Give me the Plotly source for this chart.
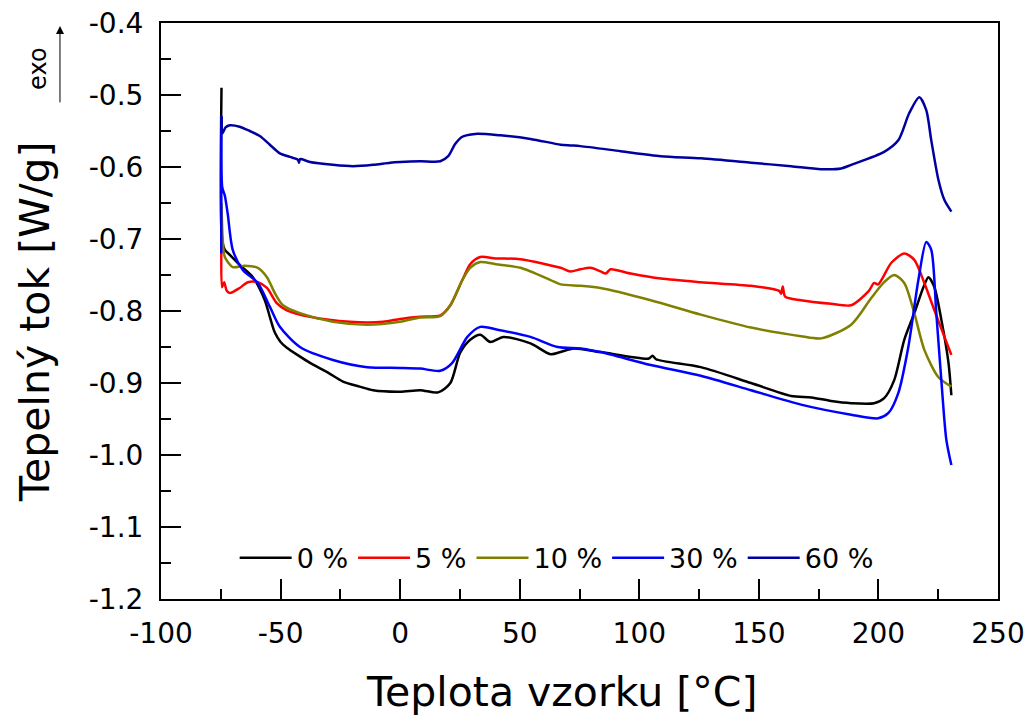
import plotly.graph_objects as go

# DSC heating curves: heat flow vs. sample temperature for five compositions
labels = ["0 %", "5 %", "10 %", "30 %", "60 %"]
colors = ["#000000", "#ff0000", "#808000", "#0000ff", "#0000a0"]

t_0 = [-74.7, -74.5, -73.3, -71.2, -67.1, -61.6, -56.6, -54.5, -52.4, -50.0, -47.4, -42.0, -37.7, -30.0, -23.9,
       -17.0, -11.3, 0, 8.4, 15.9, 21.0, 25.1, 29.3, 33.5, 37.7, 43.2, 54.5, 62.9, 67.1, 72.5, 83.8,
       104.0, 105.5, 107.0, 125.7, 146.7, 163.5, 172.0, 180.2, 188.6, 198.2, 202.4,
       206.6, 210.8, 215.0, 218.8, 220.9, 223.4, 226.3, 229.3, 230.5]
q_0 = [-0.49, -0.70, -0.715, -0.722, -0.736, -0.753, -0.785, -0.808, -0.830, -0.843, -0.851, -0.863, -0.872, -0.886, -0.898,
       -0.905, -0.910, -0.912, -0.910, -0.913, -0.900, -0.858, -0.840, -0.833, -0.843, -0.836, -0.845, -0.860, -0.857, -0.852, -0.857,
       -0.866, -0.862, -0.867, -0.878, -0.900, -0.918, -0.920, -0.925, -0.928, -0.928, -0.921,
       -0.896, -0.840, -0.803, -0.767, -0.753, -0.767, -0.812, -0.872, -0.917]

t_5 = [-74.7, -74.5, -73.6, -72.5, -71.2, -67.1, -63.7, -59.5, -55.7, -51.6, -47.4, -37.7, -21.0,
       -7.1, 0, 8.4, 16.8, 21.0, 26.0, 29.3, 33.5, 40.0, 50.3, 67.1, 71.2, 75.4, 79.6, 83.8,
       86.0, 88.0, 96.4, 109.0, 125.7, 146.7, 158.5, 159.3, 160.0, 161.0, 167.6, 180.2, 188.6,
       196.0, 198.2, 199.9, 205.4, 210.8, 215.0, 219.2, 223.4, 227.6, 230.5]
q_5 = [-0.70, -0.767, -0.760, -0.772, -0.775, -0.768, -0.760, -0.760, -0.768, -0.789, -0.799, -0.808, -0.815,
       -0.815, -0.811, -0.808, -0.806, -0.792, -0.757, -0.735, -0.725, -0.727, -0.728, -0.740, -0.745, -0.742, -0.740, -0.745,
       -0.748, -0.742, -0.748, -0.755, -0.760, -0.765, -0.772, -0.776, -0.766, -0.780, -0.785, -0.790, -0.792,
       -0.772, -0.761, -0.763, -0.733, -0.720, -0.729, -0.761, -0.799, -0.836, -0.861]

t_10 = [-74.7, -74.2, -73.3, -70.0, -65.0, -59.5, -55.7, -52.4, -49.0, -41.9, -28.1, -13.8,
        0, 8.4, 16.8, 21.0, 26.0, 29.3, 33.5, 40.0, 50.3, 62.9, 67.1, 75.4, 83.8, 104.8,
        125.7, 146.7, 167.6, 176.0, 188.6, 197.0, 202.4, 206.6, 210.8, 215.0, 219.2, 225.1, 230.5]
q_10 = [-0.65, -0.70, -0.725, -0.739, -0.737, -0.740, -0.753, -0.775, -0.792, -0.803, -0.815, -0.819,
        -0.815, -0.809, -0.807, -0.792, -0.757, -0.740, -0.732, -0.735, -0.740, -0.757, -0.763, -0.765, -0.768, -0.785,
        -0.805, -0.823, -0.835, -0.838, -0.819, -0.782, -0.760, -0.750, -0.761, -0.803, -0.854, -0.892, -0.905]

t_30 = [-74.8, -74.7, -74.4, -73.3, -72.1, -70.0, -65.8, -59.5, -54.5, -50.3, -41.9, -28.1, -13.8,
        0, 8.4, 16.8, 21.8, 28.1, 33.5, 40.7, 54.5, 65.8, 75.4, 83.8, 104.8, 125.7, 146.7,
        167.6, 188.6, 199.9, 204.1, 208.3, 212.5, 216.7, 220.0, 222.1, 224.2, 226.3, 228.4, 230.5]
q_30 = [-0.72, -0.53, -0.628, -0.640, -0.665, -0.715, -0.743, -0.761, -0.794, -0.822, -0.850, -0.868, -0.878,
        -0.879, -0.880, -0.883, -0.872, -0.836, -0.822, -0.826, -0.836, -0.850, -0.852, -0.857, -0.875, -0.890, -0.910,
        -0.930, -0.944, -0.949, -0.942, -0.914, -0.850, -0.757, -0.704, -0.715, -0.803, -0.896, -0.979, -1.014]

t_60 = [-74.7, -74.3, -73.0, -71.2, -67.1, -62.9, -58.7, -54.5, -50.3, -46.1, -42.7, -42.3, -41.9,
        -37.7, -28.1, -19.7, -11.3, -4.2, 0, 8.4, 16.8, 20.1, 23.0, 26.0, 31.4, 41.9, 54.5,
        67.1, 71.2, 75.4, 92.2, 109.0, 125.7, 146.7, 163.5, 176.0, 184.4, 188.6, 202.4, 208.3,
        212.9, 217.1, 220.0, 222.1, 225.1, 227.6, 230.5]
q_60 = [-0.53, -0.553, -0.545, -0.542, -0.544, -0.550, -0.557, -0.569, -0.581, -0.586, -0.590, -0.594, -0.589,
        -0.593, -0.597, -0.599, -0.597, -0.594, -0.593, -0.592, -0.592, -0.585, -0.568, -0.558, -0.554, -0.556, -0.561,
        -0.569, -0.570, -0.571, -0.578, -0.585, -0.588, -0.594, -0.599, -0.603, -0.602, -0.597, -0.579, -0.563,
        -0.525, -0.503, -0.521, -0.563, -0.618, -0.646, -0.662]

temps = [t_0, t_5, t_10, t_30, t_60]
flows = [q_0, q_5, q_10, q_30, q_60]

x_ticks = [-100, -50, 0, 50, 100, 150, 200, 250]
x_tick_text = ["-100", "-50", "0", "50", "100", "150", "200", "250"]
y_ticks = [-1.2, -1.1, -1.0, -0.9, -0.8, -0.7, -0.6, -0.5, -0.4]
y_tick_text = ["-1.2", "-1.1", "-1.0", "-0.9", "-0.8", "-0.7", "-0.6", "-0.5", "-0.4"]

x_title = "Teplota vzorku [°C]"
y_title = "Tepelný tok [W/g]"

FONT = "DejaVu Sans"

fig = go.Figure()
for name, col, tx, qy in zip(labels, colors, temps, flows):
    fig.add_trace(go.Scatter(
        x=tx, y=qy, name=name, mode="lines",
        line=dict(color=col, width=2.5, shape="spline", smoothing=0.75),
    ))

axis_common = dict(
    showline=True, linecolor="black", linewidth=2, mirror=True,
    ticks="inside", ticklen=20, tickwidth=2, tickcolor="black",
    showgrid=False, zeroline=False,
    tickfont=dict(family=FONT, size=28, color="black"),
)

fig.update_xaxes(
    range=[-100, 250], tickvals=x_ticks, ticktext=x_tick_text,
    minor=dict(ticks="inside", ticklen=10, tickwidth=2, tickcolor="black", dtick=25, showgrid=False),
    ticklabelstandoff=8,
    **axis_common,
)
fig.update_yaxes(
    range=[-1.2, -0.4], tickvals=y_ticks, ticktext=y_tick_text,
    minor=dict(ticks="inside", ticklen=10, tickwidth=2, tickcolor="black", dtick=0.05, showgrid=False),
    ticklabelstandoff=10,
    **axis_common,
)

# axis titles placed as paper annotations
fig.add_annotation(
    xref="paper", yref="paper", x=0.478, y=-0.1615, xanchor="center", yanchor="middle",
    text=x_title, showarrow=False, font=dict(family=FONT, size=41, color="black"),
)
fig.add_annotation(
    xref="paper", yref="paper", x=-0.1505, y=0.481, xanchor="center", yanchor="middle",
    text=y_title, textangle=-90, showarrow=False, font=dict(family=FONT, size=41, color="black"),
)

# "exo" direction marker beside the heat-flow axis
fig.add_annotation(
    xref="paper", yref="paper", x=-0.1207, y=0.995, ax=0, ay=78,
    axref="pixel", ayref="pixel", text="", showarrow=True,
    arrowhead=2, arrowsize=1.6, arrowwidth=1, arrowcolor="black",
)
fig.add_annotation(
    xref="paper", yref="paper", x=-0.147, y=0.922, xanchor="center", yanchor="middle",
    text="exo", textangle=-90,
    showarrow=False, font=dict(family=FONT, size=24, color="black"),
)

fig.update_layout(
    width=1035, height=724,
    margin=dict(l=161, r=37, t=23, b=125, autoexpand=False),
    paper_bgcolor="white", plot_bgcolor="white",
    showlegend=True,
    legend=dict(
        orientation="h", x=0.088, y=0.071, xanchor="left", yanchor="middle",
        bgcolor="rgba(0,0,0,0)", borderwidth=0,
        font=dict(family=FONT, size=27, color="black"),
        itemwidth=52, tracegroupgap=0,
    ),
)

fig.write_html("out.html")
